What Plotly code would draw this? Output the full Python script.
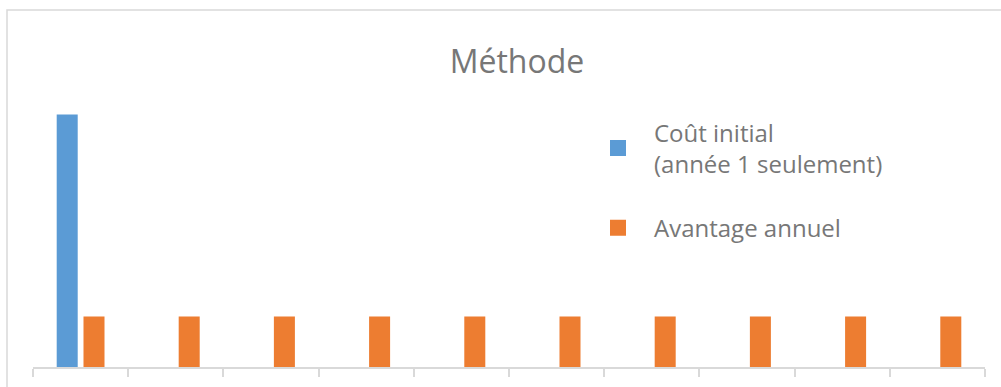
import plotly.graph_objects as go

# Years on the horizontal axis and the two series drawn for each year
annees = ["1", "2", "3", "4", "5", "6", "7", "8", "9", "10"]
cout_initial = [5, None, None, None, None, None, None, None, None, None]
avantage_annuel = [1, 1, 1, 1, 1, 1, 1, 1, 1, 1]

nom_cout = "Coût initial<br>(année 1 seulement)"
nom_avantage = "Avantage annuel"

BLEU = "#5B9BD5"
ORANGE = "#ED7D31"
GRIS_TEXTE = "#777777"
GRIS_LIGNE = "#D9D9D9"

fig = go.Figure()
fig.add_trace(go.Bar(x=annees, y=cout_initial, name=nom_cout,
                     showlegend=False,
                     marker=dict(color=BLEU, line=dict(width=0))))
fig.add_trace(go.Bar(x=annees, y=avantage_annuel, name=nom_avantage,
                     showlegend=False,
                     marker=dict(color=ORANGE, line=dict(width=0))))

# Legend entries with larger square swatches
for nom, couleur, groupe in [(nom_cout, BLEU, "cout"),
                             (nom_avantage, ORANGE, "avantage")]:
    fig.add_trace(go.Scatter(x=[annees[0]], y=[None], mode="markers",
                             name=nom, legendgroup=groupe,
                             marker=dict(symbol="square", size=16,
                                         color=couleur,
                                         line=dict(width=0)),
                             hoverinfo="skip"))

L, R, T, B = 33, 16, 64, 15
W, H = 1001, 387
pw, ph = W - L - R, H - T - B


def px_x(p):
    return (p - L) / pw


def px_y(p):
    return (H - B - p) / ph


fig.update_layout(
    width=W, height=H,
    margin=dict(l=L, r=R, t=T, b=B),
    paper_bgcolor="white", plot_bgcolor="white",
    barmode="group", bargap=0.437, bargroupgap=0.216,
    font=dict(family="'Open Sans', sans-serif", color=GRIS_TEXTE),
    title=dict(text="Méthode", x=px_x(517), xref="paper", xanchor="center",
               y=1 - 61.5 / H, yanchor="middle",
               font=dict(size=32, color=GRIS_TEXTE)),
    legend=dict(x=px_x(582), y=px_y(111), xanchor="left", yanchor="top",
                font=dict(size=24, color=GRIS_TEXTE),
                bgcolor="rgba(0,0,0,0)", tracegroupgap=30,
                itemwidth=62),
    showlegend=True,
    xaxis=dict(type="category", range=[-0.5, len(annees) - 0.5],
               showgrid=False, zeroline=False,
               showline=True, linecolor=GRIS_LIGNE, linewidth=1.5,
               ticks="outside", tickson="boundaries", ticklen=8,
               tickcolor=GRIS_LIGNE, tickwidth=1.5, showticklabels=False,
               fixedrange=True),
    yaxis=dict(range=[0, 6], visible=False, showgrid=False,
               zeroline=False, fixedrange=True),
    shapes=[dict(type="rect", xref="paper", yref="paper",
                 x0=px_x(7), x1=px_x(W + 20), y0=px_y(H + 20), y1=px_y(9),
                 line=dict(color=GRIS_LIGNE, width=1.5),
                 fillcolor="rgba(0,0,0,0)", layer="below")],
)

fig.write_html("out.html", config={"displayModeBar": False})
